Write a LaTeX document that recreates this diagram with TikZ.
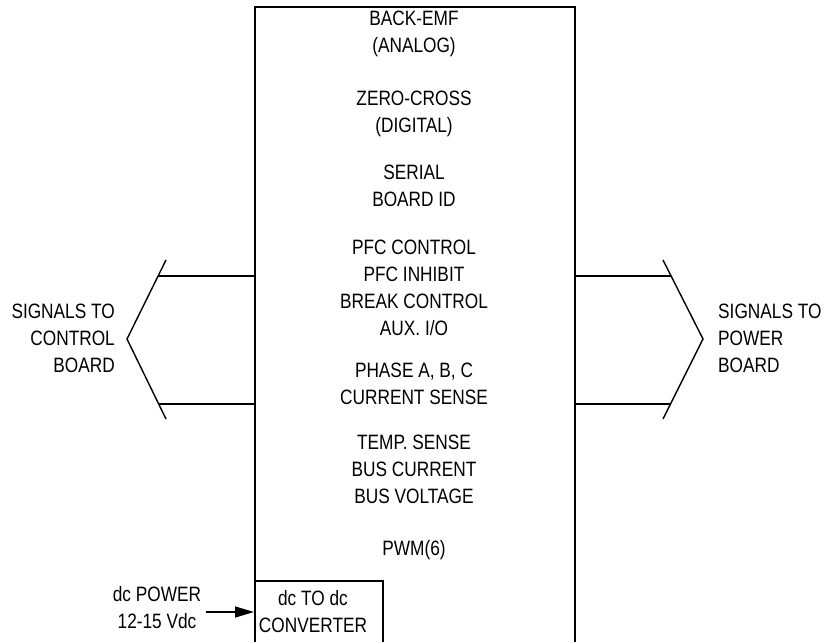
\documentclass[tikz,border=0pt]{standalone}
\usepackage{fontspec}
\setmainfont[FakeStretch=0.83]{Liberation Sans}
\usetikzlibrary{arrows.meta}
\begin{document}
\begin{tikzpicture}[x=1pt,y=-1pt,
  lbl/.style={inner sep=0pt,align=center,font=\fontsize{20.8}{27}\selectfont},
  wire/.style={line width=1.4pt},
  boxline/.style={draw,line width=1.6pt}]
\useasboundingbox (0,0) rectangle (825,642);
% main board box (open at the bottom edge of the picture)
\node[boxline,anchor=north west,minimum width=320pt,minimum height=660pt,inner sep=0pt] (main) at (254,6) {};
% converter box
\node[boxline,anchor=north west,minimum width=128pt,minimum height=80pt,inner sep=0pt] (conv) at (254,580) {};
\node[lbl] (convt) at (313,611.5) {dc TO dc\\CONVERTER};
% text inside main box
\node[lbl] (t1) at (414,34) {BACK-EMF\\(ANALOG)};
\node[lbl] (t2) at (414,113.5) {ZERO-CROSS\\(DIGITAL)};
\node[lbl] (t3) at (414,186) {SERIAL\\BOARD ID};
\node[lbl] (t4) at (414,287.5) {PFC CONTROL\\PFC INHIBIT\\BREAK CONTROL\\AUX. I/O};
\node[lbl] (t5) at (414,383.5) {PHASE A, B, C\\CURRENT SENSE};
\node[lbl] (t6) at (414,469) {TEMP. SENSE\\BUS CURRENT\\BUS VOLTAGE};
\node[lbl] (t7) at (414,550) {PWM(6)};
% left chevron
\coordinate (lt) at (166,260);
\coordinate (la) at (127,339);
\coordinate (lb) at (166,419);
\draw[wire] (lt) -- (la) -- (lb);
\coordinate (l1) at (158.1,276);
\coordinate (l2) at (158.9,404);
\draw[wire] (l1) -- (l1 -| main.west);
\draw[wire] (l2) -- (l2 -| main.west);
\node[lbl,align=right,anchor=east] (ltext) at (115,338) {SIGNALS TO\\CONTROL\\BOARD};
% right chevron
\coordinate (rt) at (663,260);
\coordinate (ra) at (703,339);
\coordinate (rb) at (663,419);
\draw[wire] (rt) -- (ra) -- (rb);
\coordinate (r1) at (671.1,276);
\coordinate (r2) at (670.6,404);
\draw[wire] (r1 -| main.east) -- (r1);
\draw[wire] (r2 -| main.east) -- (r2);
\node[lbl,align=left,anchor=west] (rtext) at (718,338) {SIGNALS TO\\POWER\\BOARD};
% dc power input
\node[lbl] (pwr) at (157,608) {dc POWER\\12-15 Vdc};
\coordinate (ain) at (206,612);
\draw[wire,-{Triangle[length=19pt,width=11pt]}] (ain) -- (ain -| conv.west);
\end{tikzpicture}
\end{document}
